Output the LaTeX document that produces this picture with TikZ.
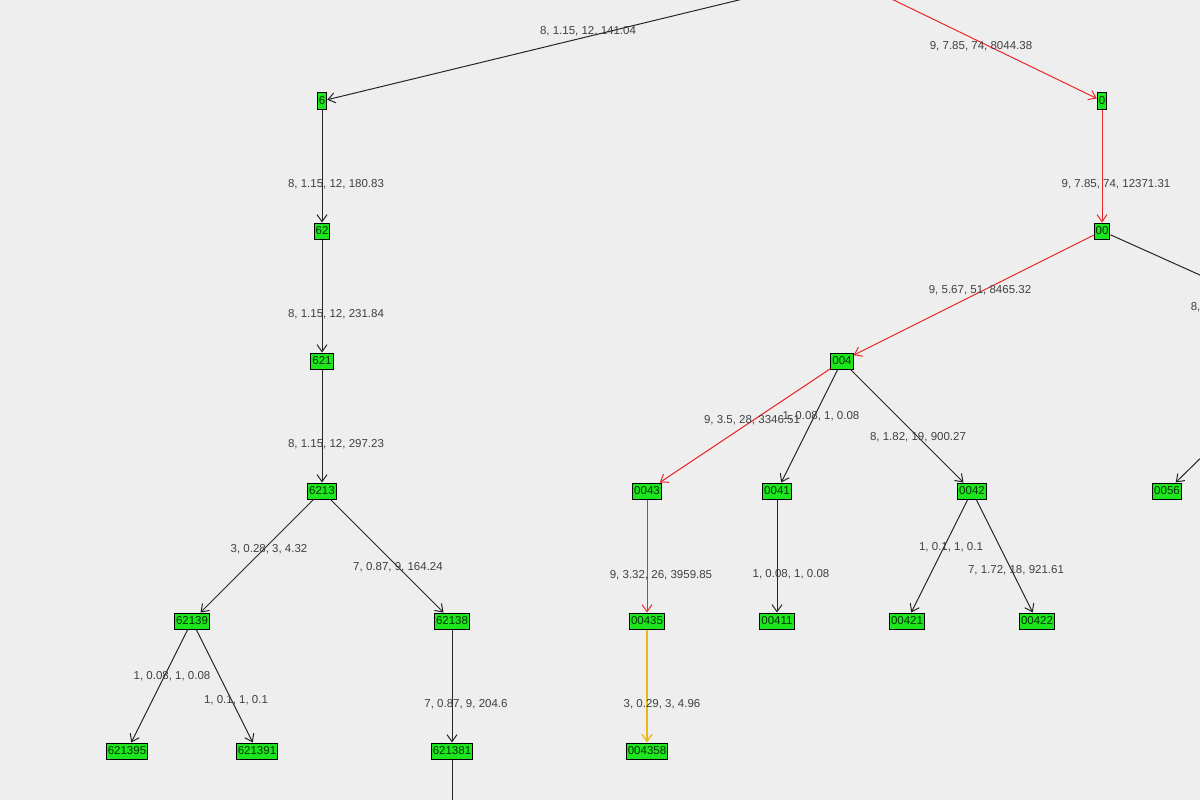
\documentclass[tikz,border=0pt]{standalone}
\usepackage{fontspec}
\setmainfont{Liberation Sans}
\usetikzlibrary{arrows.meta}
\definecolor{bg}{RGB}{238,238,238}
\definecolor{ng}{RGB}{30,230,30}
\definecolor{er}{RGB}{235,40,40}
\definecolor{ey}{RGB}{235,185,20}
\begin{document}
\begin{tikzpicture}[x=1pt,y=-1pt,line width=1pt,
 nd/.style={draw=black,fill=ng,inner sep=1.5pt,minimum height=16pt,font=\fontsize{11.5}{11.5}\selectfont,text=black!80!green},
 lb/.style={font=\fontsize{11.5}{12}\selectfont,text=black!75},
 ed/.style={draw=black!85,-{Straight Barb[length=7pt,width=10pt]}},
 red/.style={ed,draw=er},
 yel/.style={ed,draw=ey,line width=1.3pt}]
\fill[bg] (0,0) rectangle (1200,800);
\useasboundingbox (0,0) rectangle (1200,800);
\clip (0,0) rectangle (1200,800);
\coordinate (r) at (842,-25);
\coordinate (rr) at (1300,320);
\coordinate (rr2) at (1260,400);
\coordinate (bot) at (452,820);
\node[nd] (n6) at (322,101) {6};
\node[nd] (n0) at (1102,101) {0};
\node[nd] (n62) at (322,231) {62};
\node[nd] (n00) at (1102,231) {00};
\node[nd] (n621) at (322,361) {621};
\node[nd] (n004) at (842,361) {004};
\node[nd] (n6213) at (322,491) {6213};
\node[nd] (n0043) at (647,491) {0043};
\node[nd] (n0041) at (777,491) {0041};
\node[nd] (n0042) at (972,491) {0042};
\node[nd] (n0056) at (1167,491) {0056};
\node[nd] (n62139) at (192,621) {62139};
\node[nd] (n62138) at (452,621) {62138};
\node[nd] (n00435) at (647,621) {00435};
\node[nd] (n00411) at (777,621) {00411};
\node[nd] (n00421) at (907,621) {00421};
\node[nd] (n00422) at (1037,621) {00422};
\node[nd] (n621395) at (127,751) {621395};
\node[nd] (n621391) at (257,751) {621391};
\node[nd] (n621381) at (452,751) {621381};
\node[nd] (n004358) at (647,751) {004358};
\draw[ed] (r) -- (n6);
\draw[red] (r) -- (n0);
\draw[ed] (n6) -- (n62);
\draw[red] (n0) -- (n00);
\draw[ed] (n62) -- (n621);
\draw[red] (n00) -- (n004);
\draw[draw=black!85] (n00) -- (rr);
\draw[ed] (rr2) -- (n0056);
\draw[ed] (n621) -- (n6213);
\draw[red] (n004) -- (n0043);
\draw[ed] (n004) -- (n0041);
\draw[ed] (n004) -- (n0042);
\draw[ed] (n6213) -- (n62139);
\draw[ed] (n6213) -- (n62138);
\draw[red] (n0043) -- (n00435);
\draw[ed] (n0041) -- (n00411);
\draw[ed] (n0042) -- (n00421);
\draw[ed] (n0042) -- (n00422);
\draw[ed] (n62139) -- (n621395);
\draw[ed] (n62139) -- (n621391);
\draw[ed] (n62138) -- (n621381);
\draw[yel] (n00435) -- (n004358);
\draw[draw=black!85] (n621381) -- (bot);
\node[lb] (l1) at (588,31) {8, 1.15, 12, 141.04};
\node[lb] (l2) at (981,46) {9, 7.85, 74, 8044.38};
\node[lb] (l3) at (336,184) {8, 1.15, 12, 180.83};
\node[lb] (l4) at (1116,184) {9, 7.85, 74, 12371.31};
\node[lb] (l5) at (336,314) {8, 1.15, 12, 231.84};
\node[lb] (l6) at (980,290) {9, 5.67, 51, 8465.32};
\node[lb,anchor=west] (l7) at (1187,307) {8, 1.15};
\node[lb] (l8) at (336,444) {8, 1.15, 12, 297.23};
\node[lb] (l9) at (752,420) {9, 3.5, 28, 3346.51};
\node[lb] (l10) at (821,416) {1, 0.08, 1, 0.08};
\node[lb] (l11) at (918,437) {8, 1.82, 19, 900.27};
\node[lb] (l12) at (269,549) {3, 0.28, 3, 4.32};
\node[lb] (l13) at (398,567) {7, 0.87, 9, 164.24};
\node[lb] (l14) at (661,575) {9, 3.32, 26, 3959.85};
\node[lb] (l15) at (791,574) {1, 0.08, 1, 0.08};
\node[lb] (l16) at (951,547) {1, 0.1, 1, 0.1};
\node[lb] (l17) at (1016,570) {7, 1.72, 18, 921.61};
\node[lb] (l18) at (172,676) {1, 0.08, 1, 0.08};
\node[lb] (l19) at (236,700) {1, 0.1, 1, 0.1};
\node[lb] (l20) at (466,704) {7, 0.87, 9, 204.6};
\node[lb] (l21) at (662,704) {3, 0.29, 3, 4.96};
\end{tikzpicture}
\end{document}
